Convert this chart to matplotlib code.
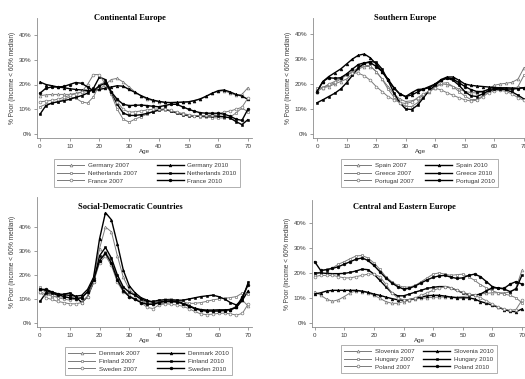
import matplotlib
matplotlib.use("Agg")
import matplotlib.pyplot as plt

plt.rcParams["font.family"] = ["Liberation Sans", "DejaVu Sans"]

AGES = [0, 2, 4, 6, 8, 10, 12, 14, 16, 18, 20, 22, 24, 26, 28, 30, 32, 34,
        36, 38, 40, 42, 44, 46, 48, 50, 52, 54, 56, 58, 60, 62, 64, 66, 68, 70]

# Continental Europe
DE_2007 = [15.5, 15.8, 16.0, 16.0, 16.0, 16.0, 16.4, 16.8, 17.2, 17.6, 18.0, 20.0, 22.0, 22.5, 21.0, 19.0, 17.0, 15.5,
           14.0, 13.5, 13.0, 12.8, 12.6, 12.6, 12.8, 13.0, 13.5, 14.2, 15.2, 16.5, 17.2, 17.5, 16.5, 15.7, 16.0, 18.7]
DE_2010 = [21.0, 20.0, 19.5, 19.0, 18.7, 18.3, 18.0, 17.8, 17.6, 17.7, 18.0, 18.5, 19.0, 19.5, 19.3, 18.0, 16.8, 15.5,
           14.5, 13.7, 13.2, 12.8, 12.7, 12.8, 12.9, 13.0, 13.5, 14.2, 15.3, 16.5, 17.5, 17.8, 17.0, 16.0, 15.3, 14.0]
NL_2007 = [11.0, 12.0, 12.5, 13.0, 14.0, 15.0, 14.5, 13.0, 12.5, 15.0, 20.0, 21.0, 16.0, 10.0, 6.0, 4.8, 6.0, 7.0,
           8.0, 9.0, 10.0, 9.8, 9.3, 8.8, 8.3, 7.8, 7.4, 7.0, 6.8, 6.6, 6.5, 6.5, 6.8, 8.5, 10.5, 9.0]
NL_2010 = [8.0, 11.5, 12.5, 13.0, 13.5, 14.0, 14.8, 15.5, 16.5, 18.5, 23.0, 22.0, 17.0, 12.0, 8.5, 7.5, 7.5, 7.8,
           8.3, 9.0, 9.6, 10.0, 9.3, 8.5, 7.8, 7.4, 7.2, 7.2, 7.3, 7.3, 7.2, 7.0, 6.5, 5.0, 3.8, 5.8]
FR_2007 = [13.0, 13.3, 13.6, 14.0, 14.8, 15.6, 16.3, 17.0, 20.0, 24.0, 24.0, 20.0, 17.0, 13.0, 10.0, 8.8, 9.0, 9.3,
           9.7, 10.0, 10.1, 10.0, 9.5, 8.7, 8.0, 7.6, 7.4, 7.4, 7.5, 7.8, 8.3, 8.8, 9.3, 10.0, 10.8, 14.5]
FR_2010 = [16.5, 18.5, 19.0, 19.0, 19.2, 20.0, 20.8, 20.5, 19.0, 17.5, 19.5, 20.5, 17.0, 14.0, 12.0, 11.5, 11.6, 11.7,
           11.5, 11.2, 11.0, 11.5, 12.0, 12.0, 11.0, 10.0, 9.2, 8.6, 8.4, 8.4, 8.4, 8.0, 7.2, 6.0, 5.5, 10.0]

# Southern Europe
ES_2007 = [18.0, 18.5, 19.0, 20.0, 21.0, 22.0, 24.0, 26.0, 27.0, 27.0, 25.0, 22.0, 19.0, 16.0, 14.0, 13.0, 13.3, 14.0,
           15.5, 17.0, 18.5, 20.0, 19.8, 19.0, 18.0, 17.0, 16.6, 16.4, 16.8, 18.0, 19.5, 20.0, 20.3, 20.7, 22.0, 26.5]
ES_2010 = [17.0, 21.0, 23.0, 24.5, 26.0, 28.0, 30.0, 31.5, 32.0, 30.5, 28.0, 25.0, 22.0, 18.5, 16.0, 15.0, 15.6, 16.8,
           18.0, 19.0, 20.0, 21.8, 22.8, 22.8, 21.5, 20.0, 19.5, 19.2, 19.0, 18.8, 18.6, 18.5, 18.5, 18.4, 18.4, 18.5]
GR_2007 = [18.5, 18.7, 19.5, 20.5, 22.0, 23.5, 25.0, 26.5, 27.5, 27.3, 25.0, 22.0, 18.0, 14.8, 12.5, 11.0, 11.0, 12.5,
           15.0, 17.0, 19.0, 20.3, 20.5, 19.0, 17.0, 15.2, 13.8, 13.8, 15.2, 17.0, 18.0, 18.0, 17.8, 17.6, 19.0, 23.5]
GR_2010 = [12.5, 13.7, 15.0, 16.3, 18.0, 20.5, 23.5, 26.5, 28.3, 29.0, 28.7, 26.0, 21.5, 16.5, 12.5, 10.0, 9.8, 11.5,
           14.5, 17.5, 19.5, 21.5, 22.3, 21.5, 19.5, 17.0, 15.3, 15.0, 16.0, 17.3, 17.8, 18.0, 17.6, 16.8, 15.5, 14.0]
PT_2007 = [17.0, 18.5, 20.0, 21.0, 22.5, 24.0, 24.5, 24.3, 23.3, 21.5, 19.0, 17.0, 15.0, 13.7, 12.6, 12.2, 12.8, 14.5,
           16.0, 17.2, 18.3, 17.6, 16.5, 15.5, 14.5, 13.7, 13.2, 13.5, 14.8, 16.5, 17.2, 17.5, 17.0, 16.0, 14.5, 13.5]
PT_2010 = [17.0, 21.0, 22.5, 22.3, 22.5, 24.0, 26.0, 27.8, 28.5, 28.6, 27.0, 25.0, 21.5, 18.5, 16.0, 15.0, 16.5, 17.8,
           18.0, 18.5, 20.0, 21.5, 22.5, 22.0, 20.5, 19.0, 17.8, 17.0, 17.0, 17.8, 18.2, 18.2, 18.0, 18.0, 18.2, 18.5]

# Social-Democratic countries
DK_2007 = [13.0, 12.0, 11.2, 11.0, 10.7, 10.5, 10.2, 10.5, 13.0, 19.0, 31.0, 40.0, 38.0, 28.0, 19.0, 14.0, 11.5, 9.5,
           8.5, 8.0, 8.0, 8.2, 8.5, 8.6, 8.3, 7.0, 6.0, 5.3, 5.0, 5.0, 5.0, 5.3, 5.8, 7.0, 9.5, 7.0]
DK_2010 = [14.0, 13.5, 12.8, 12.2, 11.8, 11.5, 11.2, 11.5, 14.0, 19.0, 35.0, 46.0, 43.0, 33.0, 22.0, 15.5, 12.5, 10.5,
           9.5, 8.5, 8.8, 9.0, 9.0, 9.0, 8.5, 7.2, 6.2, 5.6, 5.4, 5.4, 5.5, 5.5, 5.6, 6.5, 9.5, 13.5]
FI_2007 = [15.0, 12.5, 11.5, 10.5, 10.0, 9.5, 10.0, 10.5, 13.0, 18.0, 26.0, 29.5, 26.0, 19.0, 14.0, 11.5, 10.0, 9.2,
           8.0, 8.0, 9.0, 9.8, 10.0, 9.5, 8.8, 8.2, 8.2, 8.5, 9.0, 9.6, 10.0, 10.3, 10.6, 11.0, 12.5, 12.0]
FI_2010 = [9.0, 12.5, 12.5, 11.5, 12.0, 12.5, 11.0, 8.5, 11.0, 17.0, 28.0, 31.5, 27.0, 20.0, 15.0, 12.8, 11.5, 10.0,
           9.0, 9.0, 9.5, 9.7, 9.6, 9.5, 9.5, 10.0, 10.5, 11.0, 11.3, 11.6, 11.0, 10.0, 8.5, 7.5, 10.0, 17.0]
SE_2007 = [13.0, 10.5, 9.8, 9.0, 8.5, 8.0, 8.0, 8.5, 11.0, 17.0, 25.0, 28.0, 24.0, 17.0, 13.0, 11.0, 9.8, 8.5,
           6.5, 6.0, 7.5, 8.0, 7.8, 7.5, 7.0, 6.0, 4.8, 3.8, 3.5, 3.7, 4.0, 4.1, 3.8, 3.3, 4.0, 8.0]
SE_2010 = [14.0, 14.0, 13.0, 12.0, 11.0, 10.5, 10.2, 10.5, 13.0, 18.0, 26.0, 29.0, 25.0, 18.0, 13.5, 11.0, 9.8, 8.5,
           7.8, 7.8, 8.5, 9.0, 9.2, 8.8, 8.0, 7.0, 6.0, 5.3, 5.0, 5.0, 5.0, 5.2, 5.6, 6.5, 11.0, 16.0]

# Central and Eastern Europe
SI_2007 = [12.5, 11.0, 9.5, 8.6, 9.2, 10.5, 12.0, 12.8, 12.5, 12.0, 11.0, 9.8, 8.5, 7.8, 7.8, 8.5, 9.0, 9.5,
           9.8, 10.0, 10.2, 10.3, 10.3, 10.3, 10.3, 10.5, 10.8, 11.2, 11.5, 11.8, 12.0, 12.0, 12.0, 12.2, 14.0, 21.0]
SI_2010 = [11.5, 12.0, 12.7, 13.0, 13.0, 13.0, 13.0, 13.0, 12.7, 12.2, 11.5, 11.0, 10.3, 9.7, 9.2, 9.0, 9.3, 9.8,
           10.3, 10.8, 11.0, 11.0, 10.7, 10.3, 10.0, 10.0, 10.0, 9.5, 8.5, 7.8, 7.0, 6.2, 5.3, 4.6, 4.4, 5.5]
HU_2007 = [19.0, 20.5, 21.5, 22.0, 23.5, 24.5, 25.7, 26.8, 27.0, 26.0, 24.0, 21.5, 18.5, 16.5, 15.0, 14.3, 14.3, 15.0,
           16.5, 18.0, 19.5, 20.0, 19.5, 19.0, 19.3, 19.5, 18.5, 17.0, 15.3, 14.0, 12.8, 12.0, 11.5, 11.0, 10.0, 8.0]
HU_2010 = [20.0, 20.0, 19.8, 19.7, 19.7, 19.8, 20.2, 20.8, 21.5, 21.3, 19.5, 17.0, 14.5, 12.0, 10.8, 10.8, 11.5, 12.3,
           13.0, 13.8, 14.2, 14.5, 14.5, 14.0, 13.0, 12.0, 11.3, 11.0, 11.5, 12.8, 14.0, 14.0, 13.5, 12.5, 13.5, 19.0]
PL_2007 = [18.5, 19.0, 19.0, 19.0, 18.5, 18.0, 18.0, 18.5, 19.0, 19.5, 19.5, 18.5, 15.5, 12.0, 10.0, 9.2, 9.3, 10.0,
           11.0, 12.0, 13.0, 13.8, 14.5, 14.0, 13.0, 12.2, 11.5, 11.0, 10.0, 8.8, 7.5, 6.3, 5.5, 5.0, 5.3, 9.0]
PL_2010 = [24.5, 21.0, 21.3, 21.8, 22.5, 23.5, 24.5, 25.5, 26.0, 25.0, 23.0, 20.5, 18.0, 16.0, 14.5, 13.5, 13.8, 14.8,
           16.0, 17.2, 18.2, 18.8, 19.0, 18.3, 17.8, 18.0, 19.0, 19.5, 18.5, 16.5, 14.5, 13.8, 13.8, 15.5, 16.5, 15.5]

YTICKS = [0, 10, 20, 30, 40]
XTICKS = [0, 10, 20, 30, 40, 50, 60, 70]

# title, title centre (px), countries, series, axes box in px (left, right, top, bottom),
# data origin (x0 px, px per year, y0 px, px per %), legend box (left, top, width)
PANELS = [
    ("Continental Europe", (130, 18), ["Germany", "Netherlands", "France"],
     [(DE_2007, DE_2010), (NL_2007, NL_2010), (FR_2007, FR_2010)],
     (37, 252, 18, 138), (40, 2.97, 134, 2.475), (54, 159, 186)),
    ("Southern Europe", (405, 18), ["Spain", "Greece", "Portugal"],
     [(ES_2007, ES_2010), (GR_2007, GR_2010), (PT_2007, PT_2010)],
     (313, 528, 18, 138), (317, 2.957, 134, 2.5), (341, 159, 157)),
    ("Social-Democratic Countries", (130, 207), ["Denmark", "Finland", "Sweden"],
     [(DK_2007, DK_2010), (FI_2007, FI_2010), (SE_2007, SE_2010)],
     (37, 252, 197, 327), (40, 2.976, 323, 2.4), (65, 347, 167)),
    ("Central and Eastern Europe", (404, 207), ["Slovenia", "Hungary", "Poland"],
     [(SI_2007, SI_2010), (HU_2007, HU_2010), (PL_2007, PL_2010)],
     (312, 527, 200, 327), (314.7, 2.96, 322.7, 2.49), (341, 345, 156)),
]

MARKERS = ["^", "s", "o"]
GRAY = "#7a7a7a"
AXIS = "#8c8c8c"
TEXT = "#3a3a3a"

W, H = 525, 379
fig = plt.figure(figsize=(W / 100, H / 100), dpi=100)

for title, (tx, ty), names, series, (L, R, T, B), (x0, ppy, y0, ppp), (lx, ly, lw) in PANELS:
    ax = fig.add_axes([L / W, 1 - B / H, (R - L) / W, (B - T) / H])
    ax.set_xlim((L - x0) / ppy, (R - x0) / ppy)
    ax.set_ylim((y0 - B) / ppp, (y0 - T) / ppp)

    old_lines, new_lines = [], []
    for name, mk, (s07, s10) in zip(names, MARKERS, series):
        assert len(s07) == len(AGES) and len(s10) == len(AGES)
        l07, = ax.plot(AGES, s07, color=GRAY, lw=0.7, marker=mk, ms=2.0,
                       mfc="white", mec=GRAY, mew=0.5, label=f"{name} 2007")
        l10, = ax.plot(AGES, s10, color="black", lw=1.0, marker=mk, ms=2.0,
                       mfc="black", mec="black", mew=0.4, label=f"{name} 2010")
        old_lines.append(l07)
        new_lines.append(l10)

    for side in ("top", "right"):
        ax.spines[side].set_visible(False)
    for side in ("left", "bottom"):
        ax.spines[side].set_color(AXIS)
        ax.spines[side].set_linewidth(0.6)
    ax.set_yticks(YTICKS)
    ax.set_yticklabels([f"{v}%" for v in YTICKS])
    ax.set_xticks(XTICKS)
    ax.tick_params(colors=AXIS, labelcolor=TEXT, labelsize=4.5, length=2.5,
                   width=0.6, pad=1.5)
    ax.set_xlabel("Age", fontsize=4.5, color=TEXT, labelpad=0.5)
    ax.set_ylabel("% Poor (income < 60% median)", fontsize=4.7, color=TEXT)
    ax.yaxis.set_label_coords(-0.098, 0.5)

    fig.text(tx / W, 1 - ty / H, title, ha="center", va="center",
             fontsize=6.1, fontweight="bold", family="Liberation Serif")

    handles = old_lines + new_lines
    leg = ax.legend(handles, [h.get_label() for h in handles], ncol=2,
                    loc="upper left", mode="expand",
                    bbox_to_anchor=(lx / W, 1 - ly / H, lw / W, 0),
                    bbox_transform=fig.transFigure, fontsize=4.5,
                    frameon=True, fancybox=False, borderpad=0.55,
                    labelspacing=0.4, handlelength=4.3, handletextpad=0.6,
                    borderaxespad=0, labelcolor=TEXT)
    leg.get_frame().set_edgecolor(AXIS)
    leg.get_frame().set_linewidth(0.6)

fig.savefig("out.png", dpi=100)
